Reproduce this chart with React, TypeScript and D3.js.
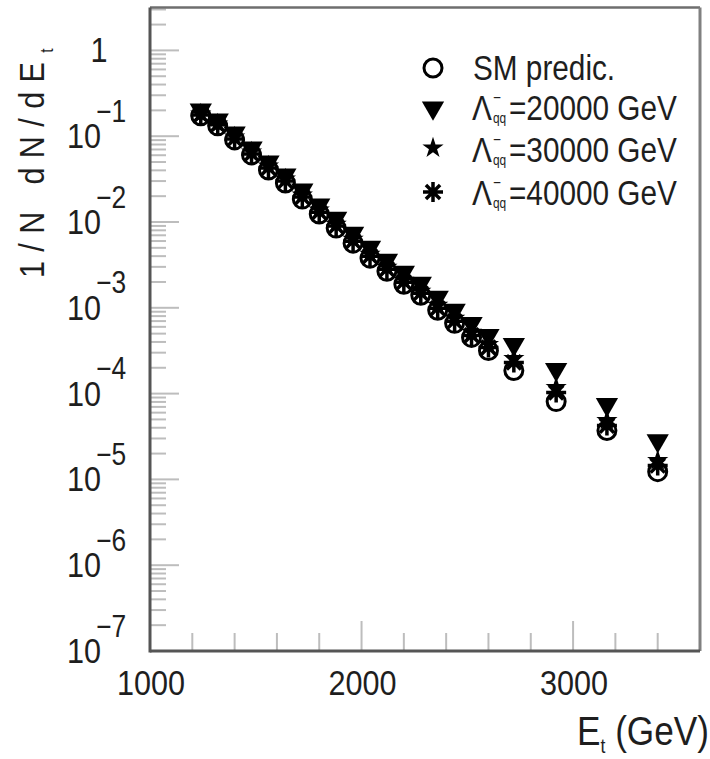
import React from "react";
import * as d3 from "d3";

// bin centres (GeV) and normalised spectra
const energies = [
  1240, 1320, 1400, 1480, 1560, 1640, 1720, 1800, 1880, 1960, 2040,
  2120, 2200, 2280, 2360, 2440, 2520, 2600, 2720, 2920, 3160, 3400,
];
const smPredic = [
  0.173, 0.132, 0.0905, 0.0605, 0.0404, 0.0285, 0.0185, 0.0124, 0.00849,
  0.00567, 0.00379, 0.00267, 0.00188, 0.0014, 0.000935, 0.000659, 0.000452,
  0.000318, 0.000186, 8.07e-5, 3.71e-5, 1.23e-5,
];
const lambda20k = [
  0.203, 0.155, 0.109, 0.073, 0.0501, 0.0353, 0.0236, 0.0158, 0.0111,
  0.00741, 0.00509, 0.00359, 0.0026, 0.00193, 0.00133, 0.000935, 0.000659,
  0.000477, 0.000375, 0.000191, 7.46e-5, 2.83e-5,
];
const lambda30k = [
  0.182, 0.139, 0.0981, 0.0656, 0.045, 0.0317, 0.0206, 0.0138, 0.00945,
  0.00631, 0.00421, 0.00297, 0.0021, 0.00156, 0.00107, 0.000754, 0.000518,
  0.000374, 0.000257, 0.000118, 4.85e-5, 1.66e-5,
];
const lambda40k = [
  0.177, 0.136, 0.0929, 0.0621, 0.0426, 0.03, 0.0195, 0.013, 0.00896,
  0.00598, 0.004, 0.00282, 0.00199, 0.00148, 0.000989, 0.000697, 0.000477,
  0.000345, 0.000231, 0.000103, 4.24e-5, 1.45e-5,
];
const xTickLabels = [1000, 2000, 3000];
const yDecades = [0, -1, -2, -3, -4, -5, -6, -7];
const legendValues = ["20000 GeV", "30000 GeV", "40000 GeV"];

const W = 710;
const H = 759;
const frame = { left: 150, right: 700, top: 7.5, bottom: 651 };
const FONT = "'Liberation Sans', Arial, sans-serif";
const SX = 0.85; // the original font is narrow
const INK = "#1e1e1e";

const x = d3.scaleLinear().domain([1000, 3600]).range([frame.left, frame.right]);
const y = d3.scaleLog().domain([1e-7, Math.pow(10, 0.5)]).range([frame.bottom, frame.top]);

const triPath = d3.symbol(d3.symbolTriangle, 215)()!;
const starPath = d3.symbol(d3.symbolStar, 140)()!;
const astPath = (() => {
  const p = d3.path();
  const r = 10;
  for (let a = 0; a < 180; a += 45) {
    const t = (a * Math.PI) / 180;
    p.moveTo(-r * Math.cos(t), -r * Math.sin(t));
    p.lineTo(r * Math.cos(t), r * Math.sin(t));
  }
  return p.toString();
})();

const Txt = ({ x, y, size, anchor = "start", children }: any) => (
  <g transform={`translate(${x},${y}) scale(${SX},1)`}>
    <text fontSize={size} textAnchor={anchor} fill={INK} fontFamily={FONT}>
      {children}
    </text>
  </g>
);

const Circle = ({ cx, cy }: any) => (
  <circle cx={cx} cy={cy} r={9} fill="none" stroke="#000" strokeWidth={3} />
);
const Tri = ({ cx, cy }: any) => (
  <path d={triPath} transform={`translate(${cx},${cy}) rotate(180)`} fill="#000" />
);
const Star = ({ cx, cy }: any) => (
  <path d={starPath} transform={`translate(${cx},${cy})`} fill="#000" />
);
const Ast = ({ cx, cy }: any) => (
  <path d={astPath} transform={`translate(${cx},${cy})`} fill="none" stroke="#000" strokeWidth={3.5} />
);

export default function App() {
  const isMajor = (v: number) => Math.abs(Math.log10(v) - Math.round(Math.log10(v))) < 1e-9;
  const yTicks = y.ticks().filter((v) => v <= y.domain()[1]);
  const xTicks = x.ticks(13);

  const legendX = 433;
  const legendRows = [68, 108, 148, 192];
  const legendBase = [80, 120, 162, 205];

  return (
    <svg
      width={W}
      height={H}
      style={{ position: "absolute", left: 0, top: 0, background: "#fff" }}
    >
      <rect width={W} height={H} fill="#fff" />

      {/* y ticks */}
      {yTicks.map((v, i) => (
        <line
          key={"yt" + i}
          x1={frame.left}
          x2={frame.left + (isMajor(v) ? 29 : 16)}
          y1={y(v)}
          y2={y(v)}
          stroke="#bdbdbd"
          strokeWidth={2}
        />
      ))}
      {/* x ticks */}
      {xTicks.map((v, i) => (
        <line
          key={"xt" + i}
          x1={x(v)}
          x2={x(v)}
          y1={frame.bottom}
          y2={frame.bottom - (v % 1000 === 0 ? 30 : 18)}
          stroke="#bdbdbd"
          strokeWidth={2}
        />
      ))}

      {/* frame */}
      <line x1={frame.left} x2={frame.right} y1={frame.top} y2={frame.top} stroke="#6e6e6e" strokeWidth={2.5} />
      <line x1={frame.right} x2={frame.right} y1={frame.top} y2={frame.bottom} stroke="#808080" strokeWidth={3} />
      <line x1={frame.left} x2={frame.right} y1={frame.bottom} y2={frame.bottom} stroke="#555" strokeWidth={3} />
      <line x1={frame.left} x2={frame.left} y1={frame.top} y2={frame.bottom + 1.5} stroke="#555" strokeWidth={3} />

      {/* y tick labels */}
      {yDecades.map((k) => {
        const ty = y(Math.pow(10, k));
        if (k === 0)
          return <Txt key={"yl" + k} x={99} y={ty + 12} size={36} anchor="middle">1</Txt>;
        return (
          <g key={"yl" + k}>
            <Txt x={101} y={ty + 12} size={36} anchor="end">10</Txt>
            <Txt x={96} y={ty - 14.5} size={31}>{"\u2212" + Math.abs(k)}</Txt>
          </g>
        );
      })}

      {/* x tick labels */}
      {xTickLabels.map((v) => (
        <Txt key={"xl" + v} x={x(v) + 1} y={695} size={36} anchor="middle">{String(v)}</Txt>
      ))}

      {/* axis titles */}
      <g transform={`translate(709,745) scale(0.88,1)`}>
        <text fontSize={40} textAnchor="end" fill={INK} fontFamily={FONT}>
          E<tspan fontSize={20} dy={8}>t</tspan>
          <tspan dy={-8}> (GeV)</tspan>
        </text>
      </g>
      <g transform={`translate(44,278) rotate(-90) scale(${SX},1)`}>
        <text fontSize={36} fill={INK} fontFamily={FONT} letterSpacing={11}>
          1/N dN/dE<tspan fontSize={18} dy={9} letterSpacing={0}>t</tspan>
        </text>
      </g>

      {/* data */}
      {energies.map((e, i) => <Circle key={"c" + i} cx={x(e)} cy={y(smPredic[i])} />)}
      {energies.map((e, i) => <Ast key={"a" + i} cx={x(e)} cy={y(lambda40k[i])} />)}
      {energies.map((e, i) => <Star key={"s" + i} cx={x(e)} cy={y(lambda30k[i])} />)}
      {energies.map((e, i) => <Tri key={"t" + i} cx={x(e)} cy={y(lambda20k[i])} />)}

      {/* legend */}
      <Circle cx={legendX} cy={legendRows[0]} />
      <Tri cx={legendX} cy={legendRows[1]} />
      <Star cx={legendX} cy={legendRows[2]} />
      <Ast cx={legendX} cy={legendRows[3]} />
      <Txt x={473} y={legendBase[0]} size={35}>SM predic.</Txt>
      {legendValues.map((lbl, i) => {
        const b = legendBase[i + 1];
        return (
          <g key={"lg" + i}>
            <Txt x={472} y={b} size={35}>{"\u039B"}</Txt>
            <Txt x={493} y={b - 17} size={16}>{"\u2212"}</Txt>
            <Txt x={493} y={b + 3} size={14}>qq</Txt>
            <Txt x={509} y={b} size={35}>{"=" + lbl}</Txt>
          </g>
        );
      })}
    </svg>
  );
}
